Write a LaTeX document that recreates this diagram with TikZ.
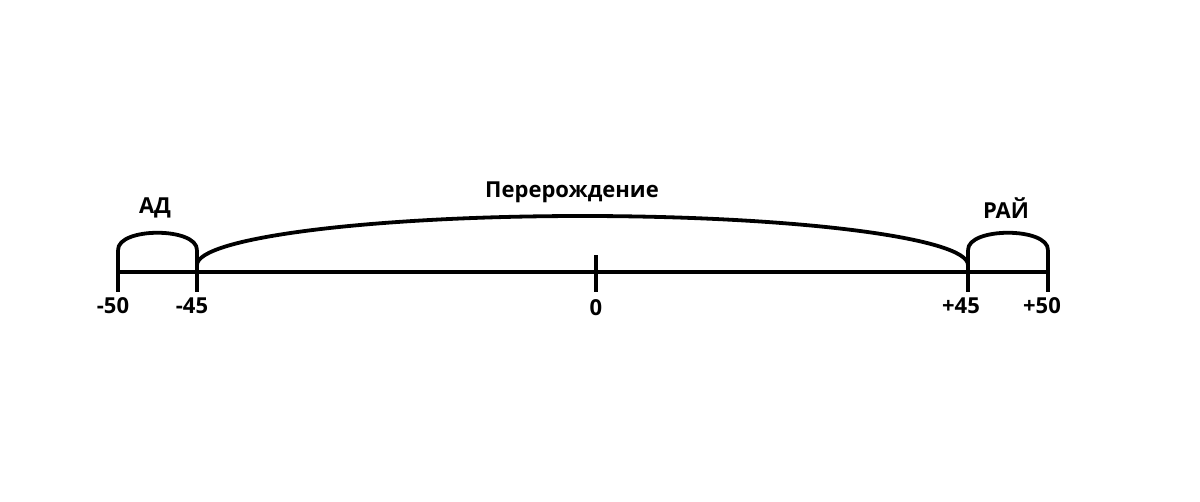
\documentclass[tikz,border=0pt]{standalone}
\usepackage{fontspec}
\setmainfont{Open Sans}
\usetikzlibrary{positioning}
\begin{document}
\begin{tikzpicture}[x=1pt,y=1pt,line join=round,line width=3.8pt,
  lbl/.style={font=\bfseries\fontsize{22}{26}\selectfont,inner sep=0pt}]
\useasboundingbox (0,-229) rectangle (1200,272);
% points on the axis
\coordinate (m50) at (118,0);
\coordinate (m45) at (197,0);
\coordinate (z) at (596,0);
\coordinate (p45) at (968,0);
\coordinate (p50) at (1048,0);
\draw (m50)--(p50);
\foreach \p in {m50,m45,p45,p50}
\draw (\p) ++(0,22)--++(0,-42);
\draw (z) ++(0,17)--++(0,-37);
% arcs
\draw ([yshift=22pt]m50) .. controls ([yshift=45pt]m50) and ([yshift=45pt]m45) .. ([yshift=22pt]m45);
\draw ([yshift=22pt]p45) .. controls ([yshift=45pt]p45) and ([yshift=45pt]p50) .. ([yshift=22pt]p50);
\draw (m45) ++(0,7) arc (180:0:385.5 and 49);
% labels
\node[lbl] (ad) at (155,64) {АД};
\node[lbl] (rai) at (1006,64) {РАЙ};
\node[lbl] (rebirth) at (572,80) {Перерождение};
\node[lbl] (lm50) at (113,-34) {-50};
\node[lbl] (lm45) at (192,-34) {-45};
\node[lbl] (lz) at (596,-36) {0};
\node[lbl] (lp45) at (961,-34) {+45};
\node[lbl] (lp50) at (1042,-34) {+50};
\end{tikzpicture}
\end{document}
